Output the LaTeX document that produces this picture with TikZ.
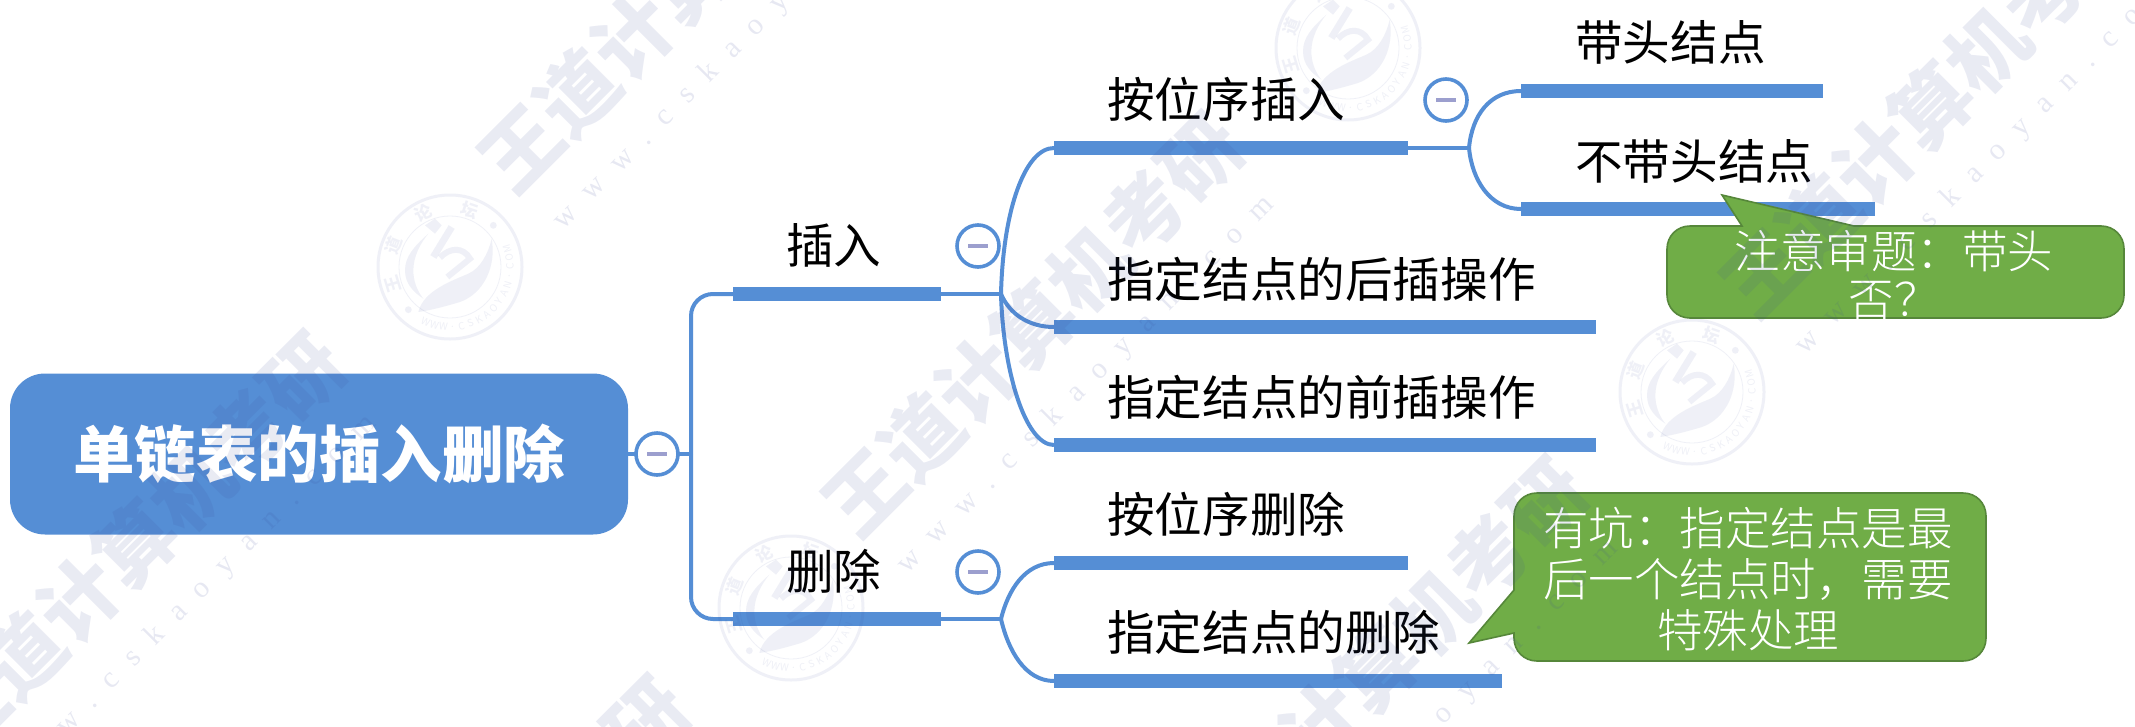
\documentclass[tikz,border=0pt]{standalone}
\usepackage{fontspec}
\setmainfont{Noto Sans CJK SC}
\newfontfamily\cjklight{Noto Sans CJK SC Light}
\newfontfamily\urlfont[LetterSpace=62]{Liberation Serif}
\definecolor{mapblue}{HTML}{558ED5}
\definecolor{minusc}{HTML}{9C9FCE}
\definecolor{noteg}{HTML}{70AD47}
\definecolor{noteb}{HTML}{56873A}
\definecolor{wm}{HTML}{3A4A9A}
\tikzset{
  barbox/.style={fill=mapblue,draw=none,anchor=west,inner sep=0pt,minimum height=14pt},
  link/.style={draw=mapblue,line width=4pt},
  toggle/.style={circle,draw=mapblue,line width=3.6pt,fill=white,minimum size=42pt,inner sep=0pt,
    path picture={\draw[minusc,line width=3.6pt] ([xshift=-10pt]path picture bounding box.center) -- ([xshift=10pt]path picture bounding box.center);}},
  lab/.style={anchor=west,inner sep=0pt,text=black,font=\fontsize{47.6}{50}\selectfont,text height=41pt,text depth=6pt},
  rootbox/.style={fill=mapblue,rounded corners=35pt,minimum width=618pt,minimum height=161pt,inner sep=0pt,text=white,font=\fontsize{61.5}{64}\selectfont\bfseries},
  notepath/.style={fill=noteg,draw=noteb,line width=1.6pt},
  notetext/.style={inner sep=0pt,text=white,align=center},
  wmtext/.style={rotate=45,text=wm,opacity=.11,inner sep=0pt,font=\fontsize{79}{79}\selectfont\bfseries},
  wmurl/.style={rotate=45,text=wm,opacity=.12,inner sep=0pt,font=\fontsize{30}{30}\urlfont},
  wmseal/.style={wm,opacity=.08},
  wmring/.style={text=wm,opacity=.08,inner sep=0pt}
}
\newcommand{\sealmark}[3]{%
  \begin{scope}[shift={(#2,#3)},x=.3333pt,y=-.3333pt]
    \draw[wmseal,line width=3pt] (0,0) circle[radius=72pt];
    \draw[wmseal,line width=.8pt] (0,0) circle[radius=51pt];
    \fill[wmseal] (-65,-100) .. controls (-110,-60) and (-135,-30) .. (-135,10) .. controls (-135,50) and (-110,75) .. (-80,95) .. controls (-100,70) and (-110,40) .. (-110,10) .. controls (-110,-30) and (-90,-70) .. cycle;
    \fill[wmseal] (-95,135) .. controls (-80,70) and (10,40) .. (55,20) .. controls (90,5) and (115,-40) .. (125,-85) .. controls (140,0) and (100,80) .. (30,105) .. controls (-20,120) and (-60,130) .. cycle;
    \draw[wmseal,line width=7pt] (5,-120) -- (-50,-30);
    \draw[wmseal,line width=6pt] (-30,-28) .. controls (0,-60) and (40,-60) .. (60,-25) -- (-8,30);
    \fill[wmseal] (130,-125) circle[radius=3.4pt];
    \fill[wmseal] (-125,128) circle[radius=3.4pt];
    \fill[wmseal] (-75,-125) -- (-45,-145) -- (-25,-125) -- (-45,-100) -- cycle;
    \foreach \ch/\ang [count=\j] in {王/197,道/159,论/116,坛/71} {
      \pgfmathsetmacro\rotang{\ang-90}
      \node[wmring,rotate=\rotang,font=\fontsize{17}{17}\selectfont\bfseries] (s#1c\j) at (\ang:60pt) {\ch};
    }
    \foreach \ch [count=\j] in {W,W,W,.,C,S,K,A,O,Y,A,N,.,C,O,M} {
      \pgfmathsetmacro\ang{246+8.8*(\j-1)}
      \pgfmathsetmacro\rotang{\ang+90}
      \node[wmring,rotate=\rotang,font=\fontsize{10}{10}\selectfont] (s#1u\j) at (\ang:60pt) {\ch};
    }
  \end{scope}%
}
\begin{document}
\begin{tikzpicture}[x=1pt,y=-1pt]
  \useasboundingbox (0,0) rectangle (2135,726);
  \fill[white] (0,0) rectangle (2135,726);
  \clip (0,0) rectangle (2135,726);

  % bars
  \node[barbox,minimum width=208pt] (bins) at (733,294) {};
  \node[barbox,minimum width=208pt] (bdel) at (733,619) {};
  \node[barbox,minimum width=354pt] (bpos) at (1054,148) {};
  \node[barbox,minimum width=302pt] (bhead) at (1521,91) {};
  \node[barbox,minimum width=354pt] (bnohead) at (1521,209) {};
  \node[barbox,minimum width=542pt] (bafter) at (1054,327) {};
  \node[barbox,minimum width=542pt] (bbefore) at (1054,445) {};
  \node[barbox,minimum width=354pt] (bposdel) at (1054,563) {};
  \node[barbox,minimum width=448pt] (bnodedel) at (1054,681) {};

  % root
  \node[rootbox] (root) at (319,454) {单链表的插入删除};

  % connectors
  \coordinate (jroot) at (691,454);
  \coordinate (jins) at (1001,294);
  \coordinate (jdel) at (1001,619);
  \coordinate (jpos) at (1469,148);
  \draw[link] (root.east) -- (jroot);
  \draw[link,rounded corners=22pt] (jroot) |- (bins.west);
  \draw[link,rounded corners=22pt] (jroot) |- (bdel.west);
  \draw[link] (bins.east) -- (jins);
  \draw[link] (bdel.east) -- (jdel);
  \draw[link] (bpos.east) -- (jpos);
  \draw[link] (jins) .. controls (1003,210) and (1025,148) .. (bpos.west);
  \draw[link] (jins) .. controls (1010,315) and (1030,327) .. (bafter.west);
  \draw[link] (jins) .. controls (1003,370) and (1025,445) .. (bbefore.west);
  \draw[link] (jdel) .. controls (1008,590) and (1025,563) .. (bposdel.west);
  \draw[link] (jdel) .. controls (1008,650) and (1025,681) .. (bnodedel.west);
  \draw[link] (jpos) .. controls (1472,115) and (1490,91) .. (bhead.west);
  \draw[link] (jpos) .. controls (1472,180) and (1490,209) .. (bnohead.west);

  % toggles
  \node[toggle] (troot) at (657,454) {};
  \node[toggle] (tins) at (978,246) {};
  \node[toggle] (tdel) at (978,572) {};
  \node[toggle] (tpos) at (1446,100) {};

  % labels
  \node[lab] (lins) at (786,246) {插入};
  \node[lab] (ldel) at (786,572) {删除};
  \node[lab] (lpos) at (1107,100) {按位序插入};
  \node[lab] (lhead) at (1575,43) {带头结点};
  \node[lab] (lnohead) at (1575,162) {不带头结点};
  \node[lab] (lafter) at (1107,280) {指定结点的后插操作};
  \node[lab] (lbefore) at (1107,398) {指定结点的前插操作};
  \node[lab] (lposdel) at (1107,515) {按位序删除};
  \node[lab] (lnodedel) at (1107,633) {指定结点的删除};

  % callouts
  \draw[notepath] (1854,226) -- (2101,226) .. controls (2114,226) and (2124,236) .. (2124,249) -- (2124,295) .. controls (2124,308) and (2114,318) .. (2101,318) -- (1690,318) .. controls (1677,318) and (1667,308) .. (1667,295) -- (1667,249) .. controls (1667,236) and (1677,226) .. (1690,226) -- (1742,226) -- (1722,195) -- cycle;
  \node[notetext,font=\fontsize{45.5}{48}\cjklight] (note1) at (1894,275) {注意审题：带头\\否？};
  \draw[notepath] (1514,590) -- (1514,516) .. controls (1514,503) and (1524,493) .. (1537,493) -- (1963,493) .. controls (1976,493) and (1986,503) .. (1986,516) -- (1986,638) .. controls (1986,651) and (1976,661) .. (1963,661) -- (1537,661) .. controls (1524,661) and (1514,651) .. (1514,638) -- (1514,633) -- (1469,643) -- cycle;
  \node[notetext,font=\fontsize{45.5}{51}\cjklight] (note2) at (1748,579) {有坑：指定结点是最\\后一个结点时，需要\\特殊处理};

  % watermark
  \foreach \i/\cx/\cy in {1/1033/325,2/1931/106,3/135/544,4/1377/669,5/689/-19,6/479/888} {
    \node[wmtext] (wt\i) at (\cx,\cy) {王道计算机考研};
  }
  \foreach \i/\cx/\cy in {1/1086/385,2/1984/166,3/188/604,4/1430/729,5/742/41} {
    \node[wmurl] (wu\i) at (\cx,\cy) {www.cskaoyan.com};
  }
  \sealmark{a}{450}{267}
  \sealmark{b}{791}{608}
  \sealmark{c}{1348}{48}
  \sealmark{d}{1692}{392}
\end{tikzpicture}
\end{document}
